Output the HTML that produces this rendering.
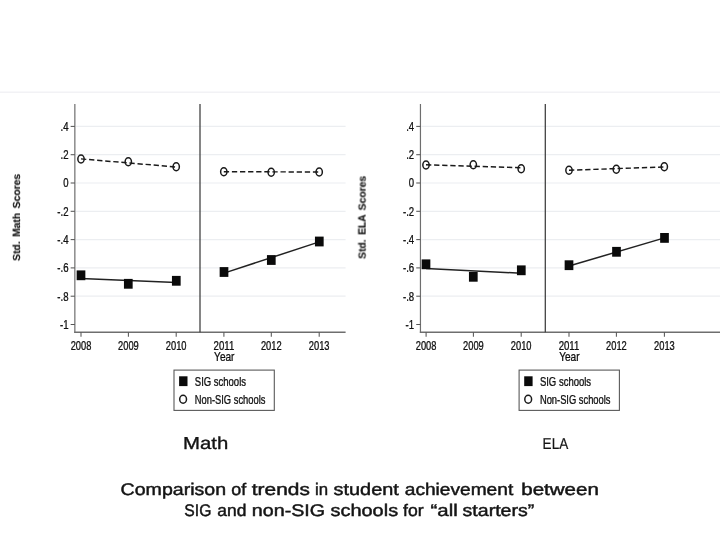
<!DOCTYPE html>
<html><head><meta charset="utf-8"><title>SIG trends</title>
<style>
html,body{margin:0;padding:0;background:#fff;}
body{width:720px;height:540px;overflow:hidden;font-family:"Liberation Sans",sans-serif;}
svg{display:block;}
svg text{font-family:"Liberation Sans",sans-serif;}
</style></head><body>
<svg width="720" height="540" viewBox="0 0 720 540">
<defs>
<filter id="gray" x="0" y="0" width="720" height="540" filterUnits="userSpaceOnUse" color-interpolation-filters="sRGB"><feColorMatrix type="saturate" values="0"/><feComponentTransfer><feFuncA type="gamma" amplitude="1" exponent="0.8" offset="0"/></feComponentTransfer></filter>
<filter id="gray2" x="0" y="0" width="720" height="540" filterUnits="userSpaceOnUse" color-interpolation-filters="sRGB"><feColorMatrix type="saturate" values="0"/></filter>
</defs>
<rect width="720" height="540" fill="#fff"/>
<line x1="0" y1="92.3" x2="720" y2="92.3" stroke="#f2f2f5" stroke-width="1.4"/>
<g>
<line x1="76.05" y1="126.40" x2="345.6" y2="126.40" stroke="#eceef1" stroke-width="1.2"/>
<line x1="76.05" y1="154.70" x2="345.6" y2="154.70" stroke="#eceef1" stroke-width="1.2"/>
<line x1="76.05" y1="183.00" x2="345.6" y2="183.00" stroke="#eceef1" stroke-width="1.2"/>
<line x1="76.05" y1="211.30" x2="345.6" y2="211.30" stroke="#eceef1" stroke-width="1.2"/>
<line x1="76.05" y1="239.60" x2="345.6" y2="239.60" stroke="#eceef1" stroke-width="1.2"/>
<line x1="76.05" y1="267.90" x2="345.6" y2="267.90" stroke="#eceef1" stroke-width="1.2"/>
<line x1="76.05" y1="296.20" x2="345.6" y2="296.20" stroke="#eceef1" stroke-width="1.2"/>
<line x1="74.85" y1="104.0" x2="74.85" y2="332.88" stroke="#6e6e6e" stroke-width="1.2"/>
<line x1="74.25" y1="332.28" x2="345.6" y2="332.28" stroke="#6e6e6e" stroke-width="1.35"/>
<line x1="70.65" y1="126.40" x2="74.85" y2="126.40" stroke="#555" stroke-width="1.05"/>
<line x1="70.65" y1="154.70" x2="74.85" y2="154.70" stroke="#555" stroke-width="1.05"/>
<line x1="70.65" y1="183.00" x2="74.85" y2="183.00" stroke="#555" stroke-width="1.05"/>
<line x1="70.65" y1="211.30" x2="74.85" y2="211.30" stroke="#555" stroke-width="1.05"/>
<line x1="70.65" y1="239.60" x2="74.85" y2="239.60" stroke="#555" stroke-width="1.05"/>
<line x1="70.65" y1="267.90" x2="74.85" y2="267.90" stroke="#555" stroke-width="1.05"/>
<line x1="70.65" y1="296.20" x2="74.85" y2="296.20" stroke="#555" stroke-width="1.05"/>
<line x1="70.65" y1="324.50" x2="74.85" y2="324.50" stroke="#555" stroke-width="1.05"/>
<line x1="81.00" y1="332.28" x2="81.00" y2="336.67999999999995" stroke="#555" stroke-width="1.05"/>
<line x1="128.40" y1="332.28" x2="128.40" y2="336.67999999999995" stroke="#555" stroke-width="1.05"/>
<line x1="176.20" y1="332.28" x2="176.20" y2="336.67999999999995" stroke="#555" stroke-width="1.05"/>
<line x1="223.90" y1="332.28" x2="223.90" y2="336.67999999999995" stroke="#555" stroke-width="1.05"/>
<line x1="271.30" y1="332.28" x2="271.30" y2="336.67999999999995" stroke="#555" stroke-width="1.05"/>
<line x1="319.20" y1="332.28" x2="319.20" y2="336.67999999999995" stroke="#555" stroke-width="1.05"/>
<line x1="200" y1="104.0" x2="200" y2="332.28" stroke="#3c3c3c" stroke-width="1.25"/>
<line x1="81" y1="158.9" x2="176.2" y2="167.0" stroke="#1a1a1a" stroke-width="1.45" stroke-dasharray="5.3 2.8"/>
<line x1="223.8" y1="171.7" x2="319.2" y2="172.0" stroke="#1a1a1a" stroke-width="1.45" stroke-dasharray="5.3 2.8"/>
<line x1="81" y1="278.5" x2="176.3" y2="282.4" stroke="#222" stroke-width="1.5"/>
<line x1="224" y1="273.1" x2="319.3" y2="241.9" stroke="#222" stroke-width="1.5"/>
<ellipse cx="81" cy="159.0" rx="3.15" ry="3.95" fill="none" stroke="#1a1a1a" stroke-width="1.5"/>
<ellipse cx="128.3" cy="161.8" rx="3.15" ry="3.95" fill="none" stroke="#1a1a1a" stroke-width="1.5"/>
<ellipse cx="176.2" cy="166.7" rx="3.15" ry="3.95" fill="none" stroke="#1a1a1a" stroke-width="1.5"/>
<ellipse cx="223.8" cy="171.7" rx="3.15" ry="3.95" fill="none" stroke="#1a1a1a" stroke-width="1.5"/>
<ellipse cx="271.2" cy="172.2" rx="3.15" ry="3.95" fill="none" stroke="#1a1a1a" stroke-width="1.5"/>
<ellipse cx="319.2" cy="172.0" rx="3.15" ry="3.95" fill="none" stroke="#1a1a1a" stroke-width="1.5"/>
<rect x="76.65" y="270.40" width="8.7" height="9.8" fill="#0a0a0a"/>
<rect x="123.95" y="278.90" width="8.7" height="9.8" fill="#0a0a0a"/>
<rect x="171.95" y="275.90" width="8.7" height="9.8" fill="#0a0a0a"/>
<rect x="219.65" y="267.10" width="8.7" height="9.8" fill="#0a0a0a"/>
<rect x="266.95" y="255.10" width="8.7" height="9.8" fill="#0a0a0a"/>
<rect x="314.95" y="236.60" width="8.7" height="9.8" fill="#0a0a0a"/>
<rect x="174.0" y="370.1" width="100.3" height="40.3" fill="#fff" stroke="#5a5a5a" stroke-width="1.1"/>
<rect x="179.10" y="376.3" width="8.4" height="9.8" fill="#0a0a0a"/>
<ellipse cx="183.10" cy="399.3" rx="3.4" ry="4.0" fill="none" stroke="#1a1a1a" stroke-width="1.5"/>
<line x1="421.65" y1="126.40" x2="720" y2="126.40" stroke="#eceef1" stroke-width="1.2"/>
<line x1="421.65" y1="154.70" x2="720" y2="154.70" stroke="#eceef1" stroke-width="1.2"/>
<line x1="421.65" y1="183.00" x2="720" y2="183.00" stroke="#eceef1" stroke-width="1.2"/>
<line x1="421.65" y1="211.30" x2="720" y2="211.30" stroke="#eceef1" stroke-width="1.2"/>
<line x1="421.65" y1="239.60" x2="720" y2="239.60" stroke="#eceef1" stroke-width="1.2"/>
<line x1="421.65" y1="267.90" x2="720" y2="267.90" stroke="#eceef1" stroke-width="1.2"/>
<line x1="421.65" y1="296.20" x2="720" y2="296.20" stroke="#eceef1" stroke-width="1.2"/>
<line x1="420.45" y1="104.0" x2="420.45" y2="332.88" stroke="#6e6e6e" stroke-width="1.2"/>
<line x1="419.84999999999997" y1="332.28" x2="720" y2="332.28" stroke="#6e6e6e" stroke-width="1.35"/>
<line x1="416.25" y1="126.40" x2="420.45" y2="126.40" stroke="#555" stroke-width="1.05"/>
<line x1="416.25" y1="154.70" x2="420.45" y2="154.70" stroke="#555" stroke-width="1.05"/>
<line x1="416.25" y1="183.00" x2="420.45" y2="183.00" stroke="#555" stroke-width="1.05"/>
<line x1="416.25" y1="211.30" x2="420.45" y2="211.30" stroke="#555" stroke-width="1.05"/>
<line x1="416.25" y1="239.60" x2="420.45" y2="239.60" stroke="#555" stroke-width="1.05"/>
<line x1="416.25" y1="267.90" x2="420.45" y2="267.90" stroke="#555" stroke-width="1.05"/>
<line x1="416.25" y1="296.20" x2="420.45" y2="296.20" stroke="#555" stroke-width="1.05"/>
<line x1="416.25" y1="324.50" x2="420.45" y2="324.50" stroke="#555" stroke-width="1.05"/>
<line x1="426.10" y1="332.28" x2="426.10" y2="336.67999999999995" stroke="#555" stroke-width="1.05"/>
<line x1="473.40" y1="332.28" x2="473.40" y2="336.67999999999995" stroke="#555" stroke-width="1.05"/>
<line x1="521.20" y1="332.28" x2="521.20" y2="336.67999999999995" stroke="#555" stroke-width="1.05"/>
<line x1="569.00" y1="332.28" x2="569.00" y2="336.67999999999995" stroke="#555" stroke-width="1.05"/>
<line x1="616.40" y1="332.28" x2="616.40" y2="336.67999999999995" stroke="#555" stroke-width="1.05"/>
<line x1="664.40" y1="332.28" x2="664.40" y2="336.67999999999995" stroke="#555" stroke-width="1.05"/>
<line x1="545.3" y1="104.0" x2="545.3" y2="332.28" stroke="#3c3c3c" stroke-width="1.25"/>
<line x1="426" y1="164.8" x2="521.2" y2="167.7" stroke="#1a1a1a" stroke-width="1.45" stroke-dasharray="5.3 2.8"/>
<line x1="569" y1="170.2" x2="664.3" y2="167.0" stroke="#1a1a1a" stroke-width="1.45" stroke-dasharray="5.3 2.8"/>
<line x1="426" y1="268.5" x2="521.3" y2="273.2" stroke="#222" stroke-width="1.5"/>
<line x1="569" y1="266.0" x2="664.5" y2="237.9" stroke="#222" stroke-width="1.5"/>
<ellipse cx="426" cy="165.0" rx="3.15" ry="3.95" fill="none" stroke="#1a1a1a" stroke-width="1.5"/>
<ellipse cx="473.3" cy="164.7" rx="3.15" ry="3.95" fill="none" stroke="#1a1a1a" stroke-width="1.5"/>
<ellipse cx="521.2" cy="168.8" rx="3.15" ry="3.95" fill="none" stroke="#1a1a1a" stroke-width="1.5"/>
<ellipse cx="569" cy="170.3" rx="3.15" ry="3.95" fill="none" stroke="#1a1a1a" stroke-width="1.5"/>
<ellipse cx="616.3" cy="169.2" rx="3.15" ry="3.95" fill="none" stroke="#1a1a1a" stroke-width="1.5"/>
<ellipse cx="664.3" cy="166.8" rx="3.15" ry="3.95" fill="none" stroke="#1a1a1a" stroke-width="1.5"/>
<rect x="421.65" y="259.40" width="8.7" height="9.8" fill="#0a0a0a"/>
<rect x="468.95" y="271.90" width="8.7" height="9.8" fill="#0a0a0a"/>
<rect x="516.95" y="265.40" width="8.7" height="9.8" fill="#0a0a0a"/>
<rect x="564.65" y="260.30" width="8.7" height="9.8" fill="#0a0a0a"/>
<rect x="612.15" y="246.90" width="8.7" height="9.8" fill="#0a0a0a"/>
<rect x="660.15" y="233.00" width="8.7" height="9.8" fill="#0a0a0a"/>
<rect x="519.1" y="370.1" width="100.3" height="40.3" fill="#fff" stroke="#5a5a5a" stroke-width="1.1"/>
<rect x="524.20" y="376.3" width="8.4" height="9.8" fill="#0a0a0a"/>
<ellipse cx="528.20" cy="399.3" rx="3.4" ry="4.0" fill="none" stroke="#1a1a1a" stroke-width="1.5"/>
</g>
<g filter="url(#gray)">
<text x="68.55" y="131.1" font-size="12.4" text-anchor="end" font-weight="normal" fill="#111111" textLength="8.0" lengthAdjust="spacingAndGlyphs" stroke="#111" stroke-width="0.18">.4</text>
<text x="68.55" y="159.1" font-size="12.4" text-anchor="end" font-weight="normal" fill="#111111" textLength="8.0" lengthAdjust="spacingAndGlyphs" stroke="#111" stroke-width="0.18">.2</text>
<text x="68.55" y="187.1" font-size="12.4" text-anchor="end" font-weight="normal" fill="#111111" textLength="5.3" lengthAdjust="spacingAndGlyphs" stroke="#111" stroke-width="0.18">0</text>
<text x="68.55" y="216.1" font-size="12.4" text-anchor="end" font-weight="normal" fill="#111111" textLength="11.2" lengthAdjust="spacingAndGlyphs" stroke="#111" stroke-width="0.18">-.2</text>
<text x="68.55" y="244.1" font-size="12.4" text-anchor="end" font-weight="normal" fill="#111111" textLength="11.2" lengthAdjust="spacingAndGlyphs" stroke="#111" stroke-width="0.18">-.4</text>
<text x="68.55" y="272.1" font-size="12.4" text-anchor="end" font-weight="normal" fill="#111111" textLength="11.2" lengthAdjust="spacingAndGlyphs" stroke="#111" stroke-width="0.18">-.6</text>
<text x="68.55" y="301.1" font-size="12.4" text-anchor="end" font-weight="normal" fill="#111111" textLength="11.2" lengthAdjust="spacingAndGlyphs" stroke="#111" stroke-width="0.18">-.8</text>
<text x="68.55" y="329.1" font-size="12.4" text-anchor="end" font-weight="normal" fill="#111111" textLength="8.6" lengthAdjust="spacingAndGlyphs" stroke="#111" stroke-width="0.18">-1</text>
<text x="81.00" y="350.1" font-size="12.4" text-anchor="middle" font-weight="normal" fill="#111111" textLength="20.7" lengthAdjust="spacingAndGlyphs" stroke="#111" stroke-width="0.18">2008</text>
<text x="128.40" y="350.1" font-size="12.4" text-anchor="middle" font-weight="normal" fill="#111111" textLength="20.7" lengthAdjust="spacingAndGlyphs" stroke="#111" stroke-width="0.18">2009</text>
<text x="176.20" y="350.1" font-size="12.4" text-anchor="middle" font-weight="normal" fill="#111111" textLength="20.7" lengthAdjust="spacingAndGlyphs" stroke="#111" stroke-width="0.18">2010</text>
<text x="223.90" y="350.1" font-size="12.4" text-anchor="middle" font-weight="normal" fill="#111111" textLength="20.7" lengthAdjust="spacingAndGlyphs" stroke="#111" stroke-width="0.18">2011</text>
<text x="271.30" y="350.1" font-size="12.4" text-anchor="middle" font-weight="normal" fill="#111111" textLength="20.7" lengthAdjust="spacingAndGlyphs" stroke="#111" stroke-width="0.18">2012</text>
<text x="319.20" y="350.1" font-size="12.4" text-anchor="middle" font-weight="normal" fill="#111111" textLength="20.7" lengthAdjust="spacingAndGlyphs" stroke="#111" stroke-width="0.18">2013</text>
<text x="224.30" y="361.1" font-size="12.4" text-anchor="middle" font-weight="normal" fill="#111111" textLength="20.4" lengthAdjust="spacingAndGlyphs" stroke="#111" stroke-width="0.18">Year</text>
<text x="194.80" y="386.1" font-size="12.4" text-anchor="start" font-weight="normal" fill="#111111" textLength="51.2" lengthAdjust="spacingAndGlyphs" stroke="#111" stroke-width="0.18">SIG schools</text>
<text x="194.80" y="404.1" font-size="12.4" text-anchor="start" font-weight="normal" fill="#111111" textLength="70.6" lengthAdjust="spacingAndGlyphs" stroke="#111" stroke-width="0.18">Non-SIG schools</text>
<text x="414.15" y="131.1" font-size="12.4" text-anchor="end" font-weight="normal" fill="#111111" textLength="8.0" lengthAdjust="spacingAndGlyphs" stroke="#111" stroke-width="0.18">.4</text>
<text x="414.15" y="159.1" font-size="12.4" text-anchor="end" font-weight="normal" fill="#111111" textLength="8.0" lengthAdjust="spacingAndGlyphs" stroke="#111" stroke-width="0.18">.2</text>
<text x="414.15" y="187.1" font-size="12.4" text-anchor="end" font-weight="normal" fill="#111111" textLength="5.3" lengthAdjust="spacingAndGlyphs" stroke="#111" stroke-width="0.18">0</text>
<text x="414.15" y="216.1" font-size="12.4" text-anchor="end" font-weight="normal" fill="#111111" textLength="11.2" lengthAdjust="spacingAndGlyphs" stroke="#111" stroke-width="0.18">-.2</text>
<text x="414.15" y="244.1" font-size="12.4" text-anchor="end" font-weight="normal" fill="#111111" textLength="11.2" lengthAdjust="spacingAndGlyphs" stroke="#111" stroke-width="0.18">-.4</text>
<text x="414.15" y="272.1" font-size="12.4" text-anchor="end" font-weight="normal" fill="#111111" textLength="11.2" lengthAdjust="spacingAndGlyphs" stroke="#111" stroke-width="0.18">-.6</text>
<text x="414.15" y="301.1" font-size="12.4" text-anchor="end" font-weight="normal" fill="#111111" textLength="11.2" lengthAdjust="spacingAndGlyphs" stroke="#111" stroke-width="0.18">-.8</text>
<text x="414.15" y="329.1" font-size="12.4" text-anchor="end" font-weight="normal" fill="#111111" textLength="8.6" lengthAdjust="spacingAndGlyphs" stroke="#111" stroke-width="0.18">-1</text>
<text x="426.10" y="350.1" font-size="12.4" text-anchor="middle" font-weight="normal" fill="#111111" textLength="20.7" lengthAdjust="spacingAndGlyphs" stroke="#111" stroke-width="0.18">2008</text>
<text x="473.40" y="350.1" font-size="12.4" text-anchor="middle" font-weight="normal" fill="#111111" textLength="20.7" lengthAdjust="spacingAndGlyphs" stroke="#111" stroke-width="0.18">2009</text>
<text x="521.20" y="350.1" font-size="12.4" text-anchor="middle" font-weight="normal" fill="#111111" textLength="20.7" lengthAdjust="spacingAndGlyphs" stroke="#111" stroke-width="0.18">2010</text>
<text x="569.00" y="350.1" font-size="12.4" text-anchor="middle" font-weight="normal" fill="#111111" textLength="20.7" lengthAdjust="spacingAndGlyphs" stroke="#111" stroke-width="0.18">2011</text>
<text x="616.40" y="350.1" font-size="12.4" text-anchor="middle" font-weight="normal" fill="#111111" textLength="20.7" lengthAdjust="spacingAndGlyphs" stroke="#111" stroke-width="0.18">2012</text>
<text x="664.40" y="350.1" font-size="12.4" text-anchor="middle" font-weight="normal" fill="#111111" textLength="20.7" lengthAdjust="spacingAndGlyphs" stroke="#111" stroke-width="0.18">2013</text>
<text x="569.40" y="361.1" font-size="12.4" text-anchor="middle" font-weight="normal" fill="#111111" textLength="20.4" lengthAdjust="spacingAndGlyphs" stroke="#111" stroke-width="0.18">Year</text>
<text x="539.90" y="386.1" font-size="12.4" text-anchor="start" font-weight="normal" fill="#111111" textLength="51.2" lengthAdjust="spacingAndGlyphs" stroke="#111" stroke-width="0.18">SIG schools</text>
<text x="539.90" y="404.1" font-size="12.4" text-anchor="start" font-weight="normal" fill="#111111" textLength="70.6" lengthAdjust="spacingAndGlyphs" stroke="#111" stroke-width="0.18">Non-SIG schools</text>
</g>
<g filter="url(#gray2)" style="text-rendering:geometricPrecision">
<text x="205.7" y="448.5" font-size="17.3" text-anchor="middle" font-weight="normal" fill="#141414" textLength="45.2" lengthAdjust="spacingAndGlyphs" stroke="#141414" stroke-width="0.35">Math</text>
<text x="555.4" y="448.6" font-size="15.8" text-anchor="middle" font-weight="normal" fill="#141414" textLength="25.6" lengthAdjust="spacingAndGlyphs" stroke="#141414" stroke-width="0.2">ELA</text>
<text x="120.55" y="495.0" font-size="16.8" text-anchor="start" font-weight="normal" fill="#141414" textLength="105.55" lengthAdjust="spacingAndGlyphs" stroke="#141414" stroke-width="0.46">Comparison</text>
<text x="231.30" y="495.0" font-size="16.8" text-anchor="start" font-weight="normal" fill="#141414" textLength="14.90" lengthAdjust="spacingAndGlyphs" stroke="#141414" stroke-width="0.46">of</text>
<text x="251.80" y="495.0" font-size="16.8" text-anchor="start" font-weight="normal" fill="#141414" textLength="58.05" lengthAdjust="spacingAndGlyphs" stroke="#141414" stroke-width="0.46">trends</text>
<text x="315.05" y="495.0" font-size="16.8" text-anchor="start" font-weight="normal" fill="#141414" textLength="13.05" lengthAdjust="spacingAndGlyphs" stroke="#141414" stroke-width="0.46">in</text>
<text x="333.55" y="495.0" font-size="16.8" text-anchor="start" font-weight="normal" fill="#141414" textLength="65.30" lengthAdjust="spacingAndGlyphs" stroke="#141414" stroke-width="0.46">student</text>
<text x="404.80" y="495.0" font-size="16.8" text-anchor="start" font-weight="normal" fill="#141414" textLength="108.40" lengthAdjust="spacingAndGlyphs" stroke="#141414" stroke-width="0.46">achievement</text>
<text x="521.30" y="495.0" font-size="16.8" text-anchor="start" font-weight="normal" fill="#141414" textLength="77.50" lengthAdjust="spacingAndGlyphs" stroke="#141414" stroke-width="0.46">between</text>
<text x="184.30" y="515.8" font-size="16.8" text-anchor="start" font-weight="normal" fill="#141414" textLength="27.05" lengthAdjust="spacingAndGlyphs" stroke="#141414" stroke-width="0.46">SIG</text>
<text x="217.30" y="515.8" font-size="16.8" text-anchor="start" font-weight="normal" fill="#141414" textLength="29.05" lengthAdjust="spacingAndGlyphs" stroke="#141414" stroke-width="0.46">and</text>
<text x="251.80" y="515.8" font-size="16.8" text-anchor="start" font-weight="normal" fill="#141414" textLength="73.30" lengthAdjust="spacingAndGlyphs" stroke="#141414" stroke-width="0.46">non-SIG</text>
<text x="330.55" y="515.8" font-size="16.8" text-anchor="start" font-weight="normal" fill="#141414" textLength="67.55" lengthAdjust="spacingAndGlyphs" stroke="#141414" stroke-width="0.46">schools</text>
<text x="403.05" y="515.8" font-size="16.8" text-anchor="start" font-weight="normal" fill="#141414" textLength="20.55" lengthAdjust="spacingAndGlyphs" stroke="#141414" stroke-width="0.46">for</text>
<text x="430.55" y="515.8" font-size="16.8" text-anchor="start" font-weight="normal" fill="#141414" textLength="27.25" lengthAdjust="spacingAndGlyphs" stroke="#141414" stroke-width="0.46">“all</text>
<text x="462.60" y="515.8" font-size="16.8" text-anchor="start" font-weight="normal" fill="#141414" textLength="71.70" lengthAdjust="spacingAndGlyphs" stroke="#141414" stroke-width="0.46">starters”</text>
<g transform="translate(20.0,217.4) rotate(-90)"><text x="0" y="0" font-size="10.4" text-anchor="middle" font-weight="bold" fill="#151515" textLength="87" lengthAdjust="spacingAndGlyphs" word-spacing="1.6" stroke="#151515" stroke-width="0.15">Std. Math Scores</text></g>
<g transform="translate(365.6,217.4) rotate(-90)"><text x="0" y="0" font-size="10.4" text-anchor="middle" font-weight="bold" fill="#151515" textLength="83" lengthAdjust="spacingAndGlyphs" word-spacing="1.6" stroke="#151515" stroke-width="0.15">Std. ELA Scores</text></g>
</g>
</svg>
</body></html>
